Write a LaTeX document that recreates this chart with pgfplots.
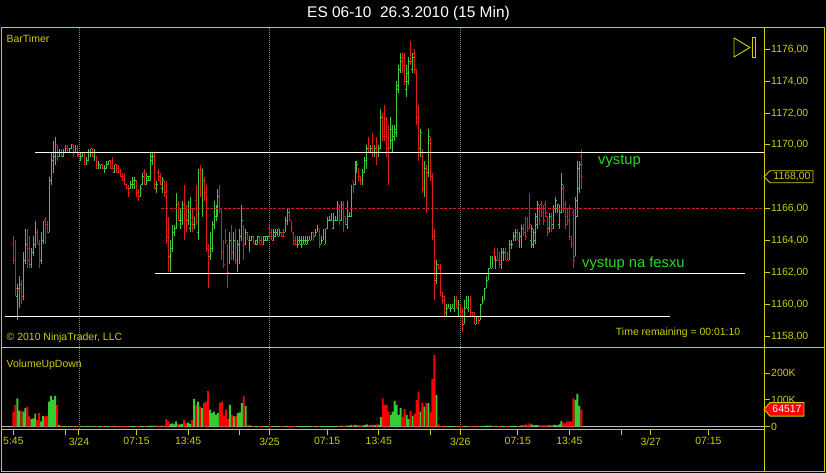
\documentclass[border=0pt]{standalone}
\usepackage{fontspec}
\setmainfont{Liberation Sans}
\usepackage{pgfplots}
\usepackage{pgfplotstable}
\pgfplotsset{compat=1.18}

\definecolor{ylw}{RGB}{205,205,0}
\definecolor{upc}{RGB}{60,200,60}
\definecolor{dnc}{RGB}{225,25,25}
\definecolor{upv}{RGB}{50,205,50}
\definecolor{dnv}{RGB}{250,0,0}
\definecolor{txtg}{RGB}{40,215,40}
\definecolor{dashr}{RGB}{205,30,45}
\definecolor{lvl}{RGB}{255,252,235}

\newcommand{\sm}{\fontsize{10.5}{12}\selectfont}

% 15 min bars, i = bar number from 3/23 15:45, volume in K
\pgfplotstableread{
i o h l c v
0 1163.75 1164.25 1162.50 1162.75 56
1 1162.75 1164.00 1160.50 1161.00 81
2 1160.50 1161.25 1159.00 1161.00 106
3 1161.00 1161.75 1159.75 1161.25 60
4 1161.25 1161.50 1160.00 1160.50 60
5 1160.50 1163.25 1160.25 1162.75 56
6 1162.75 1164.75 1162.50 1163.75 69
7 1163.75 1164.75 1162.25 1162.75 75
8 1163.50 1164.25 1162.25 1162.50 38
9 1162.50 1163.50 1162.25 1163.25 28
10 1163.25 1164.25 1163.00 1163.75 31
11 1163.75 1165.25 1163.50 1164.75 48
12 1164.50 1164.75 1163.75 1164.00 25
13 1163.75 1164.00 1162.25 1162.50 50
14 1162.75 1164.50 1162.50 1164.25 19
15 1164.00 1165.25 1163.75 1165.00 40
16 1165.25 1165.50 1163.75 1164.00 38
17 1165.00 1165.25 1164.50 1164.50 40
18 1164.50 1168.00 1164.50 1167.75 94
19 1167.75 1169.50 1167.50 1169.00 115
20 1169.00 1170.25 1168.25 1169.50 100
21 1169.25 1170.50 1168.75 1170.25 115
22 1170.00 1170.00 1169.00 1169.25 81
23 1169.25 1169.75 1169.25 1169.50 6
24 1169.50 1169.75 1169.25 1169.25 2
25 1169.25 1169.75 1169.25 1169.50 1
26 1169.50 1170.00 1169.50 1169.75 1
27 1169.75 1170.00 1169.50 1169.50 1
28 1169.50 1169.75 1169.50 1169.75 1
29 1169.75 1170.00 1169.75 1170.00 1
30 1170.00 1170.00 1169.25 1169.50 1
31 1169.50 1170.00 1169.50 1169.75 1
32 1169.75 1170.00 1169.25 1169.50 1
33 1169.50 1169.50 1169.25 1169.25 1
34 1169.00 1169.50 1169.00 1169.25 1
35 1169.25 1169.50 1169.25 1169.50 1
36 1169.50 1169.50 1168.75 1168.75 1
37 1168.75 1169.25 1168.75 1169.00 1
38 1169.00 1169.75 1169.00 1169.50 1
39 1169.50 1169.75 1169.25 1169.75 1
40 1169.75 1169.75 1169.25 1169.25 1
41 1169.25 1169.75 1169.00 1169.50 1
42 1169.25 1169.25 1168.50 1168.50 1
43 1168.50 1169.00 1168.50 1168.75 1
44 1168.50 1168.75 1168.50 1168.75 1
45 1168.75 1168.75 1168.50 1168.50 1
46 1168.25 1168.75 1168.25 1168.50 1
47 1168.50 1169.00 1168.50 1168.75 1
48 1168.75 1169.00 1168.75 1169.00 1
49 1169.00 1169.00 1168.50 1168.50 1
50 1169.00 1169.25 1168.50 1168.50 1
51 1168.25 1168.75 1168.25 1168.75 1
52 1168.75 1168.75 1168.25 1168.25 1
53 1168.50 1168.75 1168.25 1168.25 1
54 1168.25 1168.50 1168.00 1168.00 1
55 1168.00 1168.25 1167.75 1167.75 1
56 1168.00 1168.25 1167.50 1167.50 1
57 1167.50 1167.50 1167.25 1167.25 1
58 1167.25 1167.50 1166.75 1167.00 1
59 1167.25 1167.75 1167.25 1167.50 1
60 1167.50 1168.00 1167.25 1167.75 1
61 1167.50 1168.00 1167.25 1167.75 1
62 1167.75 1167.75 1166.75 1167.00 1
63 1167.00 1167.25 1166.50 1166.75 1
64 1166.75 1167.50 1166.75 1167.25 1
65 1167.50 1168.25 1167.50 1168.00 1
66 1168.25 1168.50 1167.50 1167.50 1
67 1167.50 1168.25 1167.50 1168.00 1
68 1167.75 1168.00 1167.75 1168.00 1
69 1167.75 1169.50 1167.75 1169.25 3
70 1169.00 1169.50 1168.75 1169.25 2
71 1169.25 1169.50 1167.25 1167.50 4
72 1167.25 1167.75 1167.00 1167.50 2
73 1168.25 1168.50 1167.75 1167.75 2
74 1168.00 1168.25 1167.50 1167.50 3
75 1167.25 1168.00 1167.00 1167.75 2
76 1167.75 1167.75 1166.75 1167.00 3
77 1167.00 1167.75 1163.75 1164.00 28
78 1164.25 1165.50 1162.00 1163.25 19
79 1163.00 1164.00 1162.00 1163.75 10
80 1163.50 1165.00 1163.25 1164.50 12
81 1164.50 1165.00 1164.25 1164.75 8
82 1164.75 1167.00 1164.75 1166.50 19
83 1166.25 1166.50 1165.25 1165.50 10
84 1165.25 1166.00 1164.75 1165.75 8
85 1165.25 1166.50 1165.00 1166.25 10
86 1166.25 1167.50 1164.00 1164.50 25
87 1166.00 1166.25 1164.50 1164.75 12
88 1165.25 1166.50 1165.00 1166.00 15
89 1164.75 1166.75 1164.50 1166.25 10
90 1166.00 1166.00 1164.50 1164.75 25
91 1165.00 1165.50 1164.75 1165.25 103
92 1166.50 1167.50 1165.00 1165.25 81
93 1164.50 1168.50 1164.00 1167.50 94
94 1168.25 1168.75 1166.75 1167.25 75
95 1166.00 1168.50 1165.50 1167.75 69
96 1167.75 1168.00 1166.50 1166.75 88
97 1167.00 1167.50 1163.25 1163.50 94
98 1163.50 1163.75 1161.00 1162.50 134
99 1163.00 1164.50 1162.75 1164.25 63
100 1163.50 1165.25 1163.25 1165.00 50
101 1165.00 1166.50 1164.75 1166.00 56
102 1165.50 1166.25 1165.25 1166.00 44
103 1165.75 1167.25 1165.50 1166.75 50
104 1167.00 1167.50 1165.75 1166.00 88
105 1165.75 1166.00 1162.75 1163.25 94
106 1163.50 1164.00 1162.25 1162.50 40
107 1164.50 1164.75 1163.75 1164.00 63
108 1163.50 1163.75 1161.00 1162.00 28
109 1162.75 1164.50 1162.50 1164.00 81
110 1164.75 1165.00 1162.75 1163.25 44
111 1163.00 1164.50 1162.75 1164.00 38
112 1164.25 1164.75 1162.50 1162.75 40
113 1162.25 1164.00 1162.00 1163.75 50
114 1162.75 1164.75 1162.50 1164.25 53
115 1164.00 1166.25 1164.00 1165.25 88
116 1164.75 1165.00 1162.75 1163.75 115
117 1163.75 1164.75 1163.75 1164.50 78
118 1164.50 1164.50 1164.00 1164.00 6
119 1163.50 1164.25 1163.25 1164.00 4
120 1164.00 1164.25 1164.00 1164.25 1
121 1164.25 1164.25 1163.75 1163.75 1
122 1163.75 1164.00 1163.75 1164.00 1
123 1163.75 1164.25 1163.75 1164.25 1
124 1164.25 1164.25 1163.75 1163.75 1
125 1164.00 1164.25 1163.75 1163.75 1
126 1163.75 1164.25 1163.75 1164.25 1
127 1164.00 1164.25 1164.00 1164.25 1
128 1164.00 1164.25 1164.00 1164.25 1
129 1164.75 1165.00 1164.25 1164.25 1
130 1164.50 1164.75 1164.00 1164.00 1
131 1164.00 1164.75 1164.00 1164.50 1
132 1164.25 1164.75 1164.25 1164.50 1
133 1164.50 1164.75 1164.25 1164.75 1
134 1164.25 1164.75 1164.25 1164.50 1
135 1164.50 1164.50 1164.25 1164.25 1
136 1164.50 1164.75 1164.25 1164.25 1
137 1164.50 1165.50 1164.50 1165.25 1
138 1165.25 1166.00 1165.00 1165.75 1
139 1165.75 1166.00 1165.25 1165.25 1
140 1165.25 1165.25 1164.50 1164.75 1
141 1164.50 1164.50 1163.75 1163.75 1
142 1164.00 1164.25 1163.75 1163.75 1
143 1163.75 1164.25 1163.50 1164.00 1
144 1163.75 1164.25 1163.75 1164.00 1
145 1163.75 1164.25 1163.50 1164.00 1
146 1163.75 1164.25 1163.75 1164.00 1
147 1163.75 1164.25 1163.75 1164.00 1
148 1163.75 1164.25 1163.75 1164.00 1
149 1164.00 1164.25 1164.00 1164.25 1
150 1164.00 1164.50 1164.00 1164.25 1
151 1164.50 1164.50 1164.00 1164.00 1
152 1164.25 1164.75 1164.25 1164.50 1
153 1164.50 1165.00 1164.50 1164.75 1
154 1164.75 1164.75 1163.50 1164.00 1
155 1163.75 1164.25 1163.75 1164.00 1
156 1164.00 1164.75 1164.00 1164.50 1
157 1163.75 1164.75 1163.75 1164.50 1
158 1164.75 1165.50 1164.75 1165.25 1
159 1165.25 1165.50 1165.25 1165.50 1
160 1165.25 1165.75 1165.25 1165.50 1
161 1164.75 1165.75 1164.75 1165.50 1
162 1165.25 1165.50 1165.25 1165.50 1
163 1165.25 1166.50 1165.25 1166.25 1
164 1166.25 1166.25 1165.00 1165.25 2
165 1165.25 1166.50 1165.25 1166.25 3
166 1166.25 1166.50 1164.50 1165.00 3
167 1165.50 1165.50 1165.00 1165.00 2
168 1165.00 1166.50 1164.75 1166.00 3
169 1165.50 1165.75 1165.50 1165.75 2
170 1165.50 1167.50 1165.50 1167.25 5
171 1167.75 1167.75 1167.00 1167.25 4
172 1167.50 1169.00 1167.50 1168.75 6
173 1168.50 1169.00 1168.25 1168.75 4
174 1168.50 1168.50 1167.75 1168.00 5
175 1168.00 1168.00 1167.50 1167.75 4
176 1167.50 1168.50 1167.50 1168.25 3
177 1168.25 1169.25 1168.25 1169.00 6
178 1168.75 1170.00 1168.50 1169.75 8
179 1170.25 1170.50 1169.50 1169.75 5
180 1169.50 1170.00 1169.50 1169.75 4
181 1170.50 1170.75 1169.25 1169.50 7
182 1169.25 1170.00 1169.25 1169.75 5
183 1170.25 1170.50 1168.75 1169.50 8
184 1169.50 1170.00 1169.25 1169.75 6
185 1169.75 1172.25 1169.75 1171.75 35
186 1171.75 1172.00 1170.25 1170.50 106
187 1172.25 1172.50 1170.25 1170.50 81
188 1171.50 1171.75 1169.25 1169.75 81
189 1170.75 1171.25 1167.50 1169.75 56
190 1169.75 1171.75 1169.75 1171.00 44
191 1170.25 1171.25 1169.50 1170.50 56
192 1170.50 1171.25 1170.25 1171.00 96
193 1170.75 1174.00 1170.50 1173.75 81
194 1173.50 1175.00 1173.25 1174.75 44
195 1174.75 1175.75 1174.50 1175.25 69
196 1175.50 1175.75 1174.50 1175.00 35
197 1175.50 1175.75 1173.75 1174.00 65
198 1173.50 1175.00 1173.00 1174.50 44
199 1174.00 1175.50 1173.75 1175.25 28
200 1176.00 1176.50 1175.00 1175.25 59
201 1174.75 1175.75 1174.50 1175.50 40
202 1175.75 1176.00 1174.50 1174.75 48
203 1174.50 1174.75 1171.25 1171.50 100
204 1171.75 1172.50 1169.00 1169.50 131
205 1169.75 1171.00 1169.25 1170.75 56
206 1169.25 1169.75 1167.00 1167.25 90
207 1167.25 1169.00 1166.75 1168.50 75
208 1168.50 1168.75 1165.75 1166.25 88
209 1168.25 1171.00 1168.00 1170.50 88
210 1170.25 1170.50 1167.75 1168.00 53
211 1168.00 1168.25 1164.00 1164.25 178
212 1164.25 1164.75 1160.25 1161.25 269
213 1161.50 1162.75 1161.25 1162.50 119
214 1162.50 1162.50 1162.25 1162.25 9
215 1162.25 1162.50 1160.50 1160.75 3
216 1160.75 1160.75 1160.00 1160.25 1
217 1160.50 1160.50 1159.25 1159.50 1
218 1159.50 1160.00 1159.25 1159.75 1
219 1159.75 1160.00 1159.75 1160.00 1
220 1159.75 1160.00 1159.50 1160.00 1
221 1159.75 1160.00 1159.75 1160.00 1
222 1159.75 1160.50 1159.50 1160.25 1
223 1160.25 1160.50 1159.75 1160.00 1
224 1159.75 1160.25 1159.25 1160.00 1
225 1160.00 1160.00 1159.25 1159.50 1
226 1159.50 1159.75 1158.25 1158.75 2
227 1158.75 1160.25 1158.75 1160.00 1
228 1159.75 1160.50 1159.75 1160.25 1
229 1159.75 1160.50 1159.50 1160.25 1
230 1160.25 1160.50 1159.25 1159.50 1
231 1159.50 1159.50 1159.25 1159.25 1
232 1159.50 1159.50 1158.75 1159.00 1
233 1158.75 1159.25 1158.75 1159.00 1
234 1159.25 1159.25 1158.75 1159.00 1
235 1159.00 1160.00 1159.00 1159.75 1
236 1160.00 1160.50 1160.00 1160.25 1
237 1160.25 1161.00 1160.25 1160.75 1
238 1161.00 1161.75 1161.00 1161.50 3
239 1161.50 1162.25 1161.50 1162.00 3
240 1162.25 1163.00 1162.25 1162.75 3
241 1162.25 1163.00 1162.25 1162.75 2
242 1163.25 1163.50 1162.75 1162.75 2
243 1162.25 1163.00 1162.25 1162.75 2
244 1163.25 1163.50 1162.75 1162.75 1
245 1163.00 1163.25 1162.25 1162.50 1
246 1162.25 1163.50 1162.25 1163.25 2
247 1162.75 1163.50 1162.75 1163.25 1
248 1163.25 1163.50 1162.75 1162.75 1
249 1163.00 1163.25 1162.75 1162.75 1
250 1163.00 1164.00 1162.75 1163.75 2
251 1163.50 1164.00 1163.50 1163.75 2
252 1164.00 1164.50 1164.00 1164.25 2
253 1164.00 1164.75 1164.00 1164.50 2
254 1164.50 1164.75 1164.00 1164.00 2
255 1163.75 1164.50 1163.50 1164.25 2
256 1163.75 1165.00 1163.50 1164.75 4
257 1165.00 1165.00 1164.25 1164.50 5
258 1165.25 1165.50 1164.00 1164.25 8
259 1165.25 1165.50 1164.50 1164.75 6
260 1166.75 1167.00 1164.75 1165.00 12
261 1164.00 1165.00 1163.50 1164.75 8
262 1163.75 1164.75 1163.50 1164.50 4
263 1164.00 1165.75 1163.75 1165.50 5
264 1165.00 1166.50 1164.75 1166.25 6
265 1166.00 1166.25 1165.00 1165.25 4
266 1166.25 1166.50 1165.50 1165.75 3
267 1166.00 1166.25 1165.00 1165.25 4
268 1166.25 1166.50 1165.50 1165.75 4
269 1165.50 1165.50 1164.25 1164.50 5
270 1164.75 1165.75 1164.50 1165.50 4
271 1165.50 1165.75 1164.50 1164.75 5
272 1165.00 1166.25 1164.75 1166.00 6
273 1166.00 1166.75 1165.75 1166.50 5
274 1166.00 1166.25 1165.75 1166.25 4
275 1165.00 1166.25 1164.75 1165.75 8
276 1165.75 1168.25 1165.75 1167.50 21
277 1167.25 1167.50 1165.75 1166.00 15
278 1166.25 1166.50 1164.75 1165.00 12
279 1165.50 1166.00 1165.00 1165.25 19
280 1166.00 1166.25 1164.00 1164.25 19
281 1164.25 1164.25 1163.50 1163.75 19
282 1165.75 1166.00 1162.25 1162.75 106
283 1163.00 1166.75 1163.00 1166.50 100
284 1165.50 1169.00 1165.50 1168.50 123
285 1167.25 1169.00 1167.00 1168.75 78
286 1169.25 1169.75 1167.25 1168.00 64.517
}\bars

\pgfplotsset{
  upbar/.style={restrict expr to domain={\thisrow{c}-\thisrow{o}}{0:100}},
  dnbar/.style={restrict expr to domain={\thisrow{c}-\thisrow{o}}{-100:-0.01}},
  panel/.style={scale only axis, width=762.5bp, xmin=-6, xmax=378, anchor=south west,
    axis line style={draw=ylw, line width=1bp},
    tick align=outside, major tick length=6bp,
    tick style={draw=ylw, line width=0.9bp},
    ytick pos=right, yticklabel pos=right,
    tick label style={font=\sm, text=ylw},
    yticklabel style={inner sep=1bp}},
  daysep/.style={gray, line width=0.8bp, dash pattern=on 1bp off 1bp, forget plot},
  lvline/.style={lvl, line width=1.2bp, forget plot},
}

\begin{document}
\begin{tikzpicture}
\useasboundingbox (0,0) rectangle (826bp,473bp);
\fill[black] (0,0) rectangle (826bp,473bp);

% price panel
\begin{axis}[panel, at={(1.5bp,125.5bp)}, height=320bp,
  ymin=1157.28, ymax=1177.37, xtick=\empty,
  ytick={1158,1160,...,1176},
  yticklabels={{1158,00},{1160,00},{1162,00},{1164,00},{1166,00},{},{1170,00},{1172,00},{1174,00},{1176,00}}]
\addplot[daysep] coordinates {(33,1157.28) (33,1177.37)};
\addplot[daysep] coordinates {(129,1157.28) (129,1177.37)};
\addplot[daysep] coordinates {(225,1157.28) (225,1177.37)};
% high-low
\addplot[upc, line width=0.9bp, upbar, quiver={u=0, v=\thisrow{h}-\thisrow{l}}] table[x=i, y=l] {\bars};
\addplot[dnc, line width=0.9bp, dnbar, quiver={u=0, v=\thisrow{h}-\thisrow{l}}] table[x=i, y=l] {\bars};
% open ticks
\addplot[upc, line width=0.9bp, upbar, quiver={u=0.6, v=0}] table[x expr=\thisrow{i}-0.6, y=o] {\bars};
\addplot[dnc, line width=0.9bp, dnbar, quiver={u=0.6, v=0}] table[x expr=\thisrow{i}-0.6, y=o] {\bars};
% close ticks
\addplot[upc, line width=0.9bp, upbar, quiver={u=0.6, v=0}] table[x=i, y=c] {\bars};
\addplot[dnc, line width=0.9bp, dnbar, quiver={u=0.6, v=0}] table[x=i, y=c] {\bars};
% drawn levels
\addplot[lvline] coordinates {(10.9,1169.53) (378,1169.53)};
\addplot[lvline] coordinates {(71.3,1161.94) (368.4,1161.94)};
\addplot[lvline] coordinates {(-4.2,1159.24) (330.6,1159.24)};
\addplot[dashr, line width=1bp, dash pattern=on 3bp off 1.5bp] coordinates {(74.3,1166) (378,1166)};
\coordinate (pm) at (axis cs:378,1168);
\end{axis}

% volume panel
\begin{axis}[panel, at={(1.5bp,43.7bp)}, height=81.8bp,
  ymin=-10.5, ymax=297,
  ytick={0,100,200}, yticklabels={0,100K,200K},
  xtick pos=left, xticklabel pos=left,
  xticklabel style={inner sep=2bp},
  xtick={0,26,33,62,88,114,129,158,184,210,225,254,280,306,321,350},
  xticklabels={5:45,{},3/24,07:15,13:45,{},3/25,07:15,13:45,{},3/26,07:15,13:45,{},3/27,07:15}]
\addplot[color={rgb,255:red,190;green,190;blue,190}, line width=1bp, forget plot] coordinates {(-6,0) (378,0)};
\addplot[daysep] coordinates {(33,-10.5) (33,297)};
\addplot[daysep] coordinates {(129,-10.5) (129,297)};
\addplot[daysep] coordinates {(225,-10.5) (225,297)};
\addplot[ybar, bar width=1, bar shift=0pt, fill=upv, draw=none, upbar] table[x=i, y=v] {\bars};
\addplot[ybar, bar width=1, bar shift=0pt, fill=dnv, draw=none, dnbar] table[x=i, y=v] {\bars};
\coordinate (vm) at (axis cs:378,64.517);
\end{axis}

% frame pieces outside the panels
\draw[ylw, line width=1bp] (1.5bp,1.5bp) rectangle (824bp,445.5bp);
\draw[ylw, line width=1bp] (764bp,1.5bp) -- (764bp,445.5bp);
\draw[ylw, line width=1bp] (764bp,125.5bp) -- (824bp,125.5bp);

% last price / last volume markers
\draw[ylw, fill=black, line width=0.9bp] (pm) -- ++(6bp,6bp) -- ++(43bp,0) -- ++(0,-12bp) -- ++(-43bp,0) -- cycle;
\node[text=ylw, font=\sm, inner sep=0, xshift=28bp] at (pm) {1168,00};
\draw[ylw, fill=dnv, line width=0.9bp] (vm) -- ++(6bp,6.8bp) -- ++(34bp,0) -- ++(0,-13.6bp) -- ++(-34bp,0) -- cycle;
\node[text=white, font=\sm, inner sep=0, xshift=23bp] at (vm) {64517};

% play icon
\draw[ylw, line width=0.9bp] (734bp,435bp) -- (750bp,425.5bp) -- (734bp,416bp) -- cycle;
\draw[ylw, line width=0.9bp] (752.3bp,435.7bp) rectangle (755.3bp,415.7bp);

% texts
\node[text=white, font=\fontsize{15.5}{18}\selectfont, anchor=base, inner sep=0] at (408.5bp,455.3bp) {ES 06-10\ \ 26.3.2010 (15 Min)};
\node[text=ylw, font=\sm, anchor=base west, inner sep=0] at (6.5bp,430bp) {BarTimer};
\node[text=ylw, font=\sm, anchor=base west, inner sep=0] at (6.5bp,132bp) {© 2010 NinjaTrader, LLC};
\node[text=ylw, font=\sm, anchor=base west, inner sep=0] at (6.5bp,105bp) {VolumeUpDown};
\node[text=ylw, font=\sm, anchor=base east, inner sep=0] at (740.5bp,137.5bp) {Time remaining = 00:01:10};
\node[text=txtg, font=\fontsize{14.8}{17}\selectfont, anchor=base west, inner sep=0] at (598bp,308bp) {vystup};
\node[text=txtg, font=\fontsize{14.8}{17}\selectfont, anchor=base west, inner sep=0] at (582bp,205bp) {vystup na fesxu};
\end{tikzpicture}
\end{document}
